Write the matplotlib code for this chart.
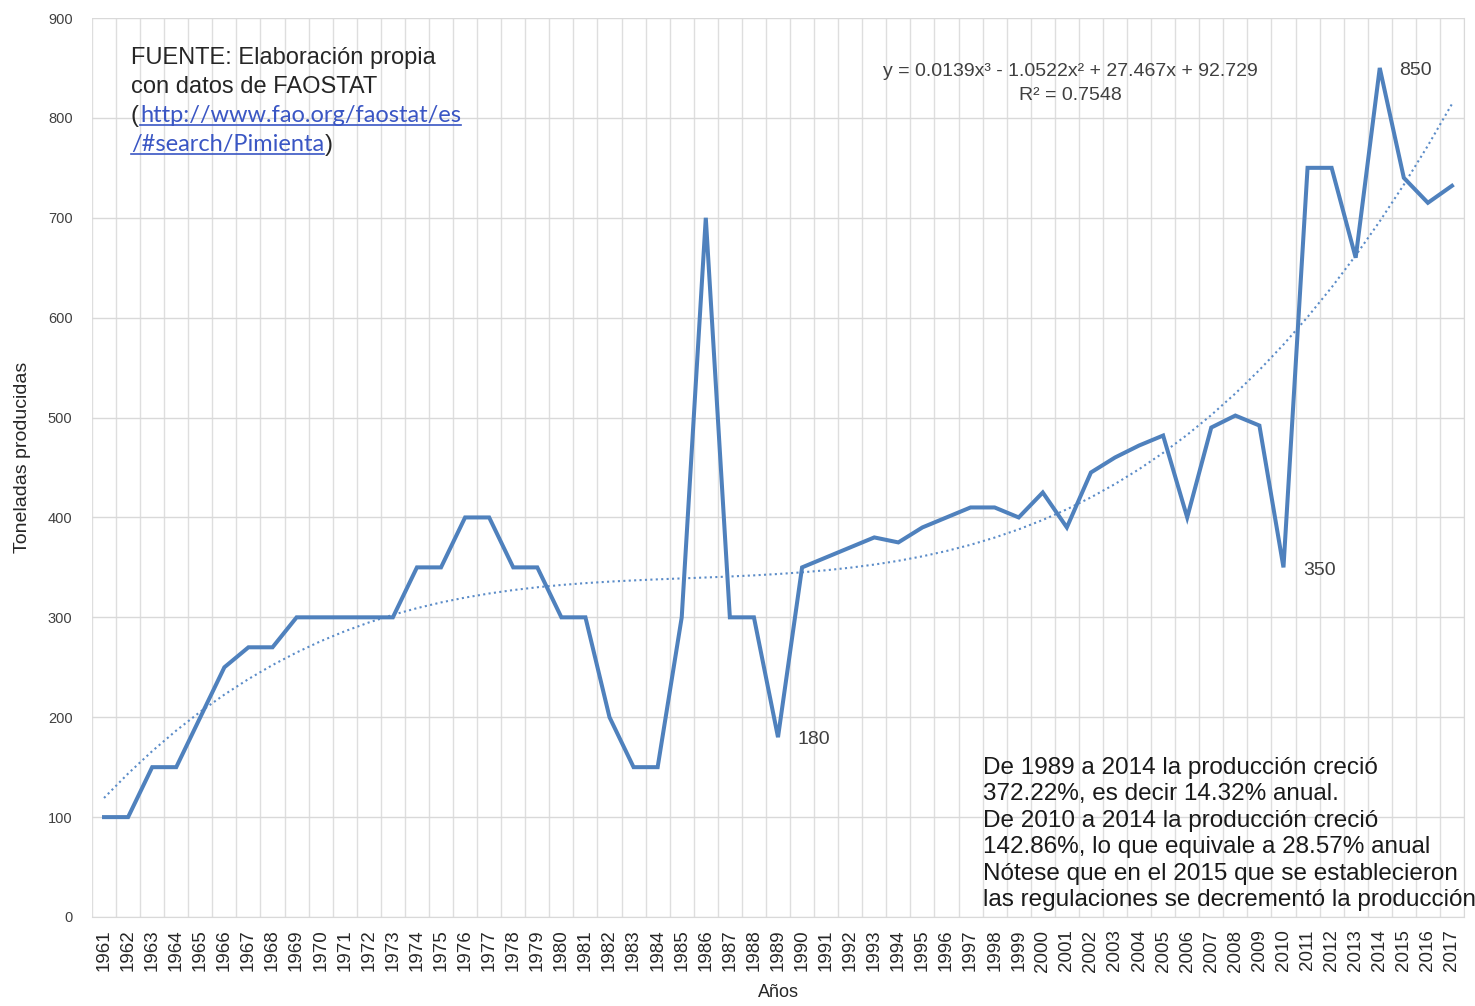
import numpy as np
import matplotlib
matplotlib.use("Agg")
import matplotlib.pyplot as plt
from matplotlib.lines import Line2D

plt.rcParams['font.family'] = ['Liberation Sans', 'DejaVu Sans']

years = list(range(1961, 2018))
toneladas = [100, 100, 150, 150, 200, 250, 270, 270, 300, 300,
             300, 300, 300, 350, 350, 400, 400, 350, 350, 300,
             300, 200, 150, 150, 300, 700, 300, 300, 180, 350,
             360, 370, 380, 375, 390, 400, 410, 410, 400, 425,
             390, 445, 460, 472, 482, 400, 490, 502, 492, 350,
             750, 750, 660, 850, 740, 715, 732]

# polinomio de la linea de tendencia (como aparece en el grafico)
coef_tendencia = [0.0139, -1.0522, 27.467, 92.729]
ecuacion = "y = 0.0139x³ - 1.0522x² + 27.467x + 92.729"
r2_texto = "R² = 0.7548"

etiquetas = {1989: "180", 2010: "350", 2014: "850"}
y_ticks = [0, 100, 200, 300, 400, 500, 600, 700, 800, 900]

W, H = 1475, 1006
fig = plt.figure(figsize=(W / 100, H / 100), dpi=100)
ax = fig.add_axes([92 / W, 1 - 917 / H, (1464 - 92) / W, (917 - 18) / H])

azul = '#4f81bd'
ax.plot(years, toneladas, color=azul, lw=2.9, solid_joinstyle='miter', zorder=3)

xs = np.arange(1, len(years) + 1)
tend = np.polyval(coef_tendencia, xs)
ax.plot(years, tend, color='#5b8cc8', lw=1.5, ls=(0, (1, 1.6)), zorder=2)

ax.set_xlim(years[0] - 0.5, years[-1] + 0.5)
ax.set_ylim(0, 900)
ax.set_yticks(y_ticks)
ax.set_xticks(years)
ax.set_xticklabels([str(y) for y in years], rotation=90)
ax.tick_params(axis='both', length=0)
ax.tick_params(axis='x', pad=9, labelsize=13.5, labelcolor='#262626')
ax.tick_params(axis='y', pad=14, labelsize=10.5, labelcolor='#404040')

# cuadricula
ax.set_xticks(np.arange(years[0] - 0.5, years[-1] + 1.5, 1), minor=True)
ax.tick_params(axis='x', which='minor', length=0)
ax.grid(True, which='minor', axis='x', color='#dedede', lw=1)
ax.grid(True, which='major', axis='y', color='#d9d9d9', lw=1)
ax.set_axisbelow(True)
for s in ['top', 'left']:
    ax.spines[s].set_visible(False)
ax.spines['right'].set_color('#d9d9d9')
ax.spines['bottom'].set_color('#d9d9d9')

ax.set_xlabel("Años", fontsize=13, color='#262626')
ax.xaxis.set_label_coords((778 - 92) / 1372, (917 - 984) / 899)
ax.set_ylabel("Toneladas producidas", fontsize=14, color='#262626')
ax.yaxis.set_label_coords((31 - 92) / 1372, (917 - 457) / 899)

for anio, txt in etiquetas.items():
    v = toneladas[years.index(anio)]
    ax.annotate(txt, xy=(anio, v), xytext=(14, -2), textcoords='offset points',
                ha='left', va='center', fontsize=14, color='#404040')

# ecuacion de tendencia
fig.text(1070 / W, 1 - 72 / H, ecuacion, ha='center', va='center', fontsize=14, color='#404040')
fig.text(1070 / W, 1 - 95 / H, r2_texto, ha='center', va='center', fontsize=14, color='#404040')

# fuente
fig.text(131 / W, 1 - 58 / H, "FUENTE: Elaboración propia", ha='left', va='center', fontsize=17, color='#262626')
fig.text(131 / W, 1 - 87 / H, "con datos de FAOSTAT", ha='left', va='center', fontsize=17, color='#262626')
link = '#3a56c4'
fig.canvas.draw()
r = fig.canvas.get_renderer()
p1 = fig.text(131 / W, 1 - 116 / H, "(", ha='left', va='center', fontsize=17, color='#262626')
bbp = p1.get_window_extent(r)
u1 = fig.text((bbp.x1 + 1) / W, 1 - 116 / H, "http://www.fao.org/faostat/es", ha='left', va='center',
              fontsize=17, color=link, family=['Lato', 'DejaVu Sans'])
u2 = fig.text(131 / W, 1 - 145 / H, "/#search/Pimienta", ha='left', va='center',
              fontsize=17, color=link, family=['Lato', 'DejaVu Sans'])
for t in (u1, u2):
    bb = t.get_window_extent(r)
    yline = (bb.y0 + 2) / H
    fig.add_artist(Line2D([bb.x0 / W, bb.x1 / W], [yline, yline], color=link, lw=1.2))
bb2 = u2.get_window_extent(r)
fig.text((bb2.x1 + 1) / W, 1 - 145 / H, ")", ha='left', va='center', fontsize=17, color='#262626')

# nota
nota = ("De 1989 a 2014 la producción creció\n"
        "372.22%, es decir 14.32% anual.\n"
        "De 2010 a 2014 la producción creció\n"
        "142.86%, lo que equivale a 28.57% anual\n"
        "Nótese que en el 2015 que se establecieron\n"
        "las regulaciones se decrementó la producción")
fig.text(983 / W, 1 - 757 / H, nota, ha='left', va='top', fontsize=17.5, color='#1a1a1a',
         linespacing=1.26)

fig.savefig("out.png", dpi=100)
